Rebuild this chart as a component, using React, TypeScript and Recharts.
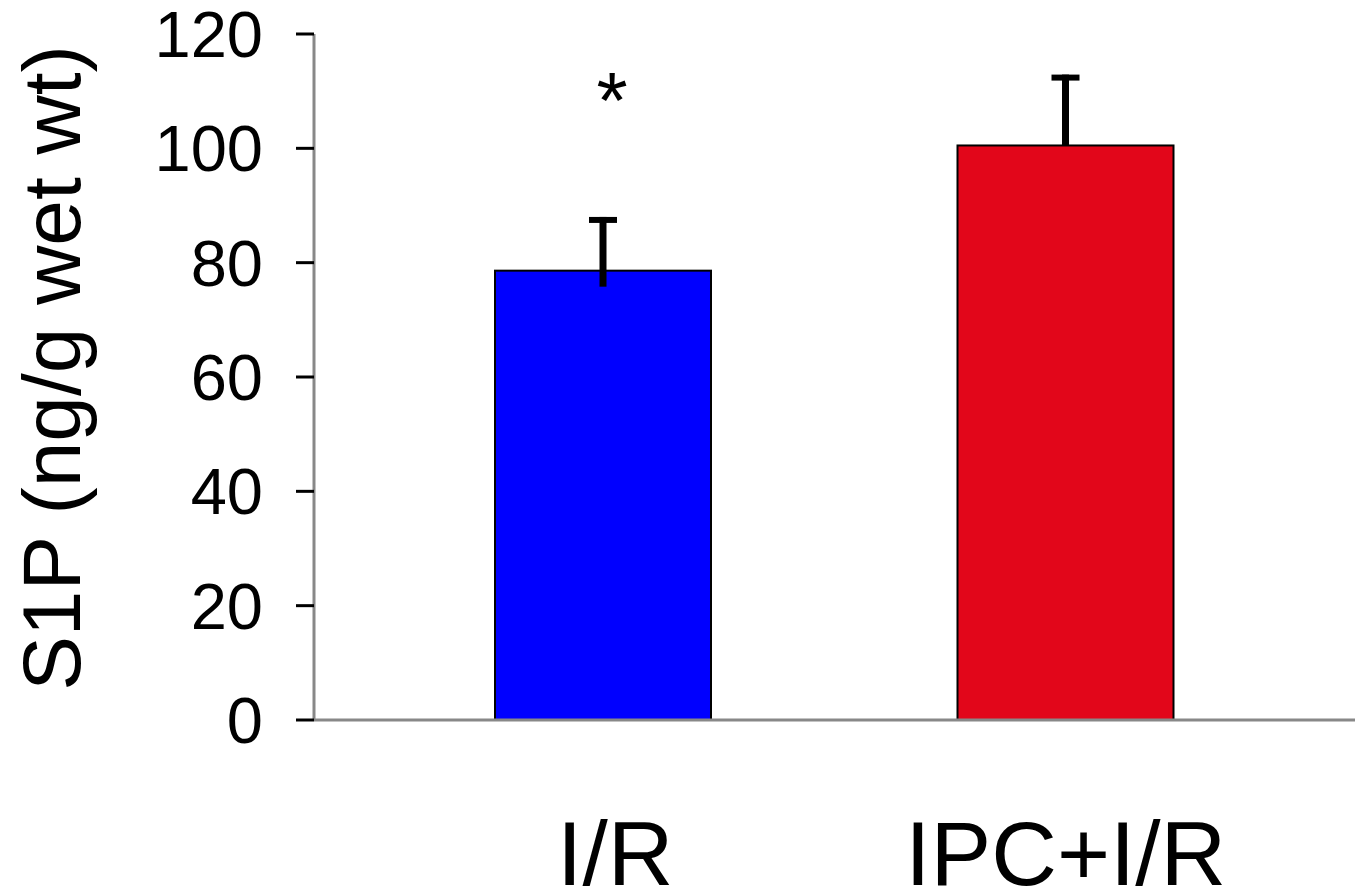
import React from 'react';
import { BarChart, Bar, XAxis, YAxis } from 'recharts';

const categories = ['I/R', 'IPC+I/R'];
const means = [78.6, 100.5];
const errUp = [9.4, 12.4];
const errDown = [2.8, 0];
const sigMarks = ['*', ''];
const sigLevels = [110.5, 0];
const barColors = ['#0000FF', '#E2061A'];
const yTicks = [0, 20, 40, 60, 80, 100, 120];

const data = categories.map((name, i) => ({
  name,
  mean: means[i],
  up: errUp[i],
  down: errDown[i],
  sig: sigMarks[i],
  sigLevel: sigLevels[i],
  color: barColors[i],
}));

const FONT = 'Arial, "Liberation Sans", sans-serif';

const BarWithError = (props: any) => {
  const { x, y, width, height, payload } = props;
  const k = height / payload.mean;
  const cx = x + width / 2;
  const top = y - payload.up * k;
  const bottom = y + payload.down * k;
  return (
    <g>
      <rect x={x} y={y} width={width} height={height} fill={payload.color} stroke="#000" strokeWidth={2} />
      <line x1={cx} x2={cx} y1={top} y2={bottom} stroke="#000" strokeWidth={7} />
      <line x1={cx - 14} x2={cx + 14} y1={top + 3} y2={top + 3} stroke="#000" strokeWidth={6} />
      {payload.sig ? (
        <text
          x={cx + 9}
          y={y - (payload.sigLevel - payload.mean) * k + 40}
          textAnchor="middle"
          fontSize={80}
          fontFamily={FONT}
          fill="#000"
        >
          {payload.sig}
        </text>
      ) : null}
    </g>
  );
};

const XTick = (props: any) => {
  const { x, y, payload, index } = props;
  return (
    <text
      x={x + (index === 0 ? 12 : 0)}
      y={y + 165}
      textAnchor="middle"
      fontSize={91}
      fontFamily={FONT}
      fill="#000"
    >
      {payload.value}
    </text>
  );
};

const YLabel = () => (
  <text
    transform="translate(80,368) rotate(-90)"
    textAnchor="middle"
    fontSize={82}
    fontFamily={FONT}
    fill="#000"
  >
    S1P (ng/g wet wt)
  </text>
);

export default function App() {
  return (
    <div style={{ position: 'absolute', left: 0, top: 0, background: '#fff' }}>
      <BarChart
        width={1360}
        height={894}
        data={data}
        margin={{ top: 34, right: 5, bottom: 0, left: 0 }}
      >
        <XAxis
          dataKey="name"
          height={174}
          padding={{ left: 58, right: 58 }}
          axisLine={{ stroke: '#888', strokeWidth: 3 }}
          tickLine={false}
          tickSize={0}
          tickMargin={0}
          tick={<XTick />}
          interval={0}
        />
        <YAxis
          width={314}
          domain={[0, 120]}
          ticks={yTicks}
          interval={0}
          axisLine={{ stroke: '#888', strokeWidth: 3 }}
          tickLine={{ stroke: '#000', strokeWidth: 3 }}
          tickSize={18}
          tickMargin={33}
          tick={{ fontSize: 65, fill: '#000', fontFamily: FONT }}
          label={<YLabel />}
        />
        <Bar dataKey="mean" barSize={216} isAnimationActive={false} shape={<BarWithError />} />
      </BarChart>
    </div>
  );
}
